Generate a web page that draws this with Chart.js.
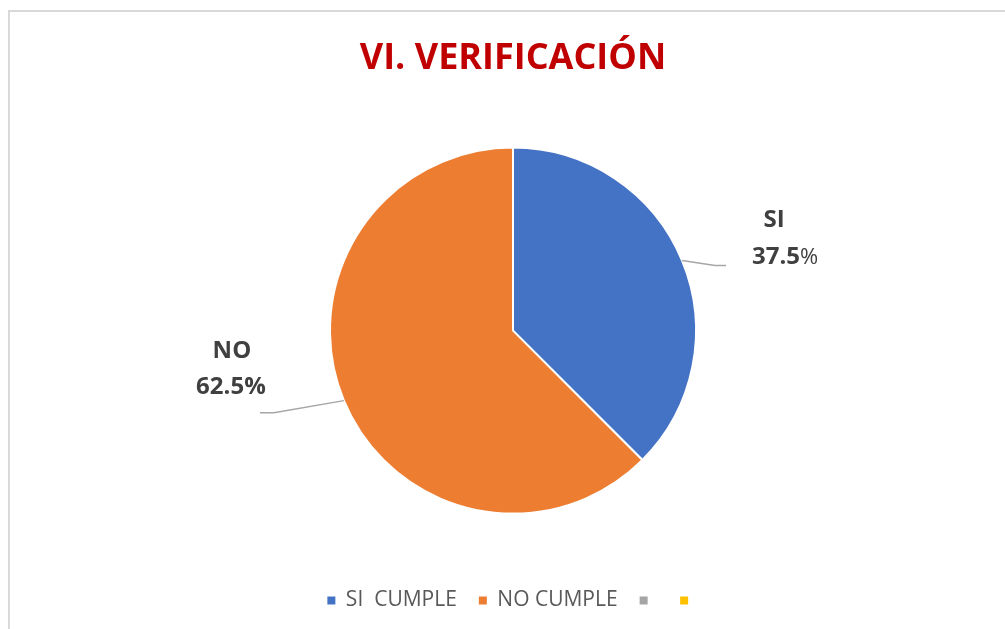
<!DOCTYPE html>
<html>
<head>
<meta charset="utf-8">
<script src="https://cdn.jsdelivr.net/npm/chart.js@4/dist/chart.umd.min.js"></script>
<style>
  html, body { margin: 0; padding: 0; background: #ffffff; overflow: hidden; }
  #wrap { position: absolute; left: 0; top: 0; width: 1005px; height: 629px; }
  #frame { position: absolute; left: 8px; top: 10px; width: 1100px; height: 700px;
           border: 2px solid #d9d9d9; pointer-events: none; box-sizing: border-box; }
</style>
</head>
<body>
<div id="wrap">
  <canvas id="c" width="1005" height="629"></canvas>
  <div id="frame"></div>
</div>
<script>
// ---- data ----
const categories = ['SI  CUMPLE', 'NO CUMPLE', '', ''];
const shortNames = ['SI', 'NO', '', ''];
const values = [37.5, 62.5, 0, 0];
const sliceColors = ['#4472C4', '#ED7D31', '#A5A5A5', '#FFC000'];
const chartTitle = 'VI. VERIFICACIÓN';

// label placement relative to slice outer mid-point (style options)
const labelStyle = {
  0: { name: [92, -34], pct: [103, 3], leader: [[33, 5], [44, 5]], lightPct: true },
  1: { name: [-112, -43], pct: [-113, -7], leader: [[-70, 12], [-84, 12]], lightPct: false }
};

const pieLabels = {
  id: 'pieLabels',
  afterDatasetsDraw(chart) {
    const ctx = chart.ctx;
    const meta = chart.getDatasetMeta(0);
    const data = chart.data.datasets[0].data;
    const total = data.reduce((a, b) => a + b, 0);
    meta.data.forEach((arc, i) => {
      const st = labelStyle[i];
      if (!st || !data[i]) return;
      const p = arc.getProps(['x', 'y', 'startAngle', 'endAngle', 'outerRadius'], true);
      const mid = (p.startAngle + p.endAngle) / 2;
      const ex = p.x + Math.cos(mid) * p.outerRadius;
      const ey = p.y + Math.sin(mid) * p.outerRadius;
      ctx.save();
      ctx.strokeStyle = '#a6a6a6';
      ctx.lineWidth = 1.5;
      ctx.beginPath();
      ctx.moveTo(ex, ey);
      st.leader.forEach(pt => ctx.lineTo(ex + pt[0], ey + pt[1]));
      ctx.stroke();
      ctx.fillStyle = '#404040';
      ctx.textBaseline = 'alphabetic';
      ctx.textAlign = 'center';
      const boldF = 'bold 24px "Open Sans"', lightF = '22px "Open Sans"';
      ctx.font = boldF;
      ctx.fillText(shortNames[i], ex + st.name[0], ey + st.name[1]);
      const num = (data[i] / total * 100).toFixed(1);
      if (st.lightPct) {
        ctx.font = boldF; const w1 = ctx.measureText(num).width;
        ctx.font = lightF; const w2 = ctx.measureText('%').width;
        const x0 = ex + st.pct[0] - (w1 + w2) / 2;
        ctx.textAlign = 'left';
        ctx.font = boldF; ctx.fillText(num, x0, ey + st.pct[1]);
        ctx.font = lightF; ctx.fillText('%', x0 + w1, ey + st.pct[1]);
      } else {
        ctx.fillText(num + '%', ex + st.pct[0], ey + st.pct[1]);
      }
      ctx.restore();
    });
  }
};

function draw() {
  Chart.defaults.font.family = '"Open Sans", "Liberation Sans", sans-serif';
  new Chart(document.getElementById('c'), {
    type: 'pie',
    data: {
      labels: categories,
      datasets: [{
        data: values,
        backgroundColor: sliceColors,
        borderColor: '#ffffff',
        borderWidth: 2,
        radius: 183
      }]
    },
    options: {
      responsive: false,
      animation: false,
      devicePixelRatio: 1,
      layout: { padding: { top: 20, left: 21, right: 0, bottom: 8 } },
      plugins: {
        title: {
          display: true,
          text: chartTitle,
          color: '#C00000',
          font: { size: 36, weight: 'bold' },
          padding: { top: 17, bottom: 13 }
        },
        legend: {
          position: 'bottom',
          labels: {
            boxWidth: 8,
            boxHeight: 8,
            padding: 22,
            color: '#595959',
            font: { size: 21 },
            generateLabels(chart) {
              const items = Chart.overrides.pie.plugins.legend.labels.generateLabels(chart);
              items.forEach(it => { it.lineWidth = 0; it.strokeStyle = it.fillStyle; });
              return items;
            }
          }
        },
        tooltip: { enabled: false }
      }
    },
    plugins: [pieLabels]
  });
}

Promise.all([
  document.fonts.load('bold 36px "Open Sans"'),
  document.fonts.load('21px "Open Sans"'),
  document.fonts.load('bold 24px "Open Sans"')
]).then(draw, draw);
</script>
</body>
</html>
